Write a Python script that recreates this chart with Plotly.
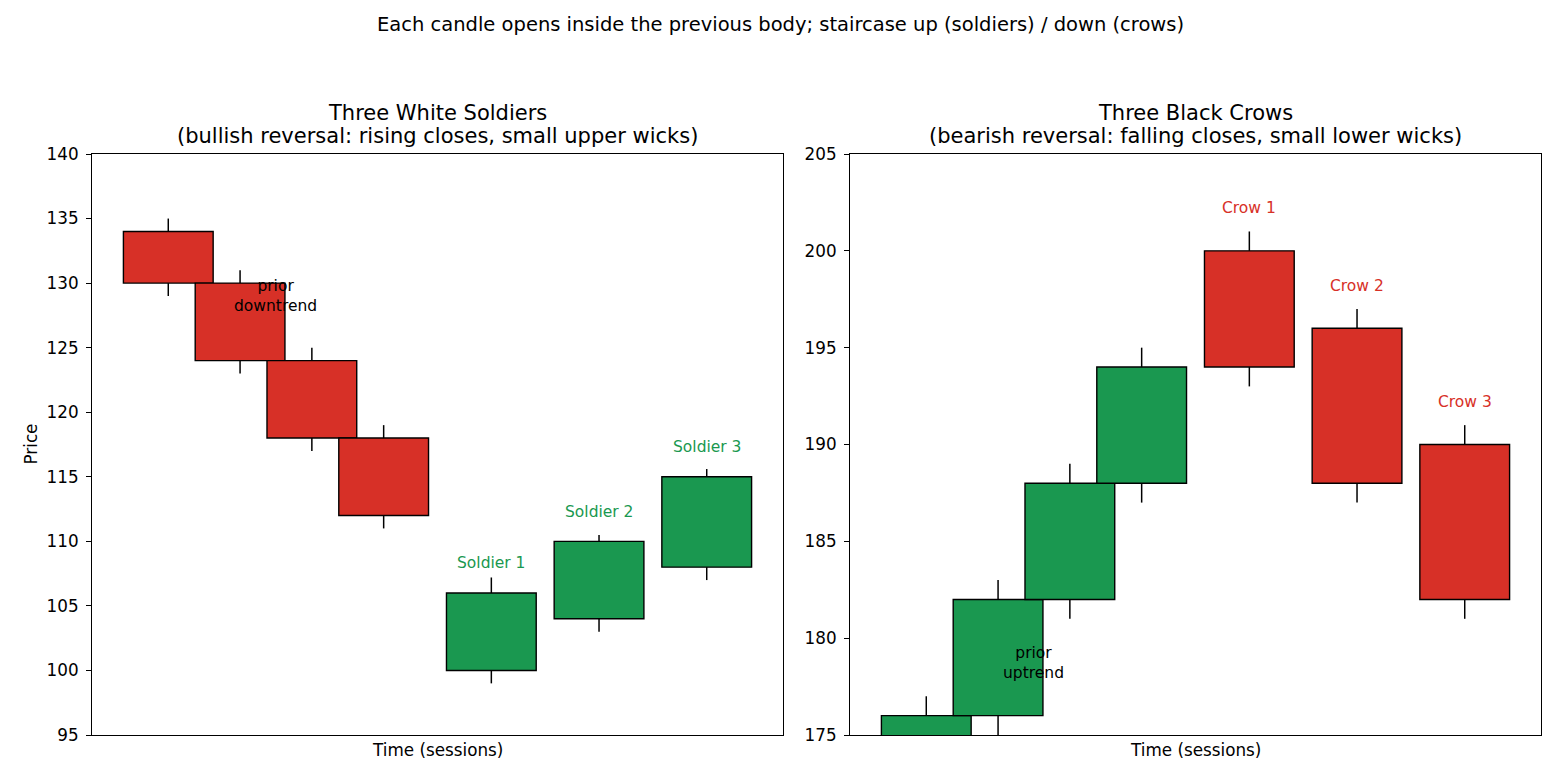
import plotly.graph_objects as go

# ---- data ----
pos = [0, 1, 2, 3, 4.5, 6, 7.5]

ws_open = [134, 130, 124, 118, 100, 104, 108]
ws_close = [130, 124, 118, 112, 106, 110, 115]
ws_high = [135, 131, 125, 119, 107.2, 110.5, 115.6]
ws_low = [129, 123, 117, 111, 99, 103, 107]
ws_labels = ["", "", "", "", "Soldier 1", "Soldier 2", "Soldier 3"]

bc_open = [170, 176, 182, 188, 200, 196, 190]
bc_close = [176, 182, 188, 194, 194, 188, 182]
bc_high = [177, 183, 189, 195, 201, 197, 191]
bc_low = [169, 174.5, 181, 187, 193, 187, 181]
bc_labels = ["", "", "", "", "Crow 1", "Crow 2", "Crow 3"]

UP = "#1a9850"
DOWN = "#d73027"
BODY_W = 1.25
FONT = "DejaVu Sans"
ANN = 15.5
TICK = 16.8
LABEL_GAP = 2  # label sits this far above the body top

fig = go.Figure()


def add_panel(o, c, h, l, labels, xa, ya, note, note_y):
    colors = [UP if cc >= oo else DOWN for oo, cc in zip(o, c)]
    wx, wy = [], []
    for x, oo, cc, hh, ll in zip(pos, o, c, h, l):
        top, bot = max(oo, cc), min(oo, cc)
        wx += [x, x, None, x, x, None]
        wy += [hh, top, None, bot, ll, None]
    fig.add_trace(go.Scatter(x=wx, y=wy, mode="lines", line=dict(color="black", width=1.5),
                             xaxis=xa, yaxis=ya, showlegend=False, hoverinfo="skip"))
    fig.add_trace(go.Bar(x=pos, base=[min(a, b) for a, b in zip(o, c)],
                         y=[abs(b - a) for a, b in zip(o, c)], width=BODY_W,
                         marker=dict(color=colors, line=dict(color="black", width=1.4)),
                         xaxis=xa, yaxis=ya, showlegend=False))
    for x, oo, cc, lab, col in zip(pos, o, c, labels, colors):
        if lab:
            fig.add_annotation(x=x, y=max(oo, cc) + LABEL_GAP, text=lab, showarrow=False,
                               xref=xa, yref=ya, xanchor="center", yanchor="middle", yshift=4,
                               font=dict(family=FONT, size=ANN, color=col))
    fig.add_annotation(x=1.5, y=note_y, text=note, showarrow=False, xref=xa, yref=ya,
                       xanchor="center", yanchor="middle",
                       font=dict(family=FONT, size=ANN, color="black"))


add_panel(ws_open, ws_close, ws_high, ws_low, ws_labels, "x", "y", "prior<br>downtrend", 129)
add_panel(bc_open, bc_close, bc_high, bc_low, bc_labels, "x2", "y2", "prior<br>uptrend", 178.7)

W, H = 1560, 780
ytop = 1 - 154 / H
ybot = 1 - 735 / H
xd1 = [92 / W, 783 / W]
xd2 = [850 / W, 1541 / W]

axcommon = dict(showgrid=False, zeroline=False, showline=True, linecolor="black", linewidth=1,
                mirror=True, automargin=False)
xr = [-0.625 - 0.4375, 7.5 + 0.625 + 0.4375]
ycommon = dict(dtick=5, ticks="outside", ticklen=5, tickwidth=1, tickcolor="black",
               ticklabelstandoff=4, tickfont=dict(family=FONT, size=TICK, color="black"))

fig.update_layout(
    width=W, height=H, margin=dict(l=0, r=0, t=0, b=0, autoexpand=False),
    paper_bgcolor="white", plot_bgcolor="white", barmode="overlay",
    font=dict(family=FONT, size=TICK, color="black"),
    xaxis=dict(domain=xd1, range=xr, showticklabels=False, ticks="", anchor="y", **axcommon),
    yaxis=dict(domain=[ybot, ytop], range=[95, 140], anchor="x", **axcommon, **ycommon),
    xaxis2=dict(domain=xd2, range=xr, showticklabels=False, ticks="", anchor="y2", **axcommon),
    yaxis2=dict(domain=[ybot, ytop], range=[175, 205], anchor="x2", **axcommon, **ycommon),
)


def paper_text(xpx, ypx, text, size, angle=0):
    fig.add_annotation(x=xpx / W, y=1 - ypx / H, xref="paper", yref="paper", showarrow=False,
                       xanchor="center", yanchor="middle", text=text, textangle=angle,
                       font=dict(family=FONT, size=size, color="black"))


paper_text(780, 25, "Each candle opens inside the previous body; staircase up (soldiers) / down (crows)", 19.5)
titles = [
    (xd1, "Three White Soldiers", "(bullish reversal: rising closes, small upper wicks)"),
    (xd2, "Three Black Crows", "(bearish reversal: falling closes, small lower wicks)"),
]
for xd, t1, t2 in titles:
    cx = (xd[0] + xd[1]) / 2 * W
    paper_text(cx, 113, t1, 21)
    paper_text(cx, 136, t2, 21)
    paper_text(cx, 750, "Time (sessions)", TICK)
paper_text(30, (154 + 735) / 2, "Price", TICK, angle=-90)

fig.write_html("out.html")
